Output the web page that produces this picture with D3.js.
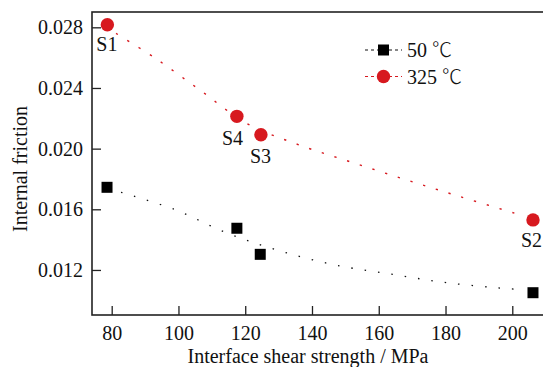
<!DOCTYPE html>
<html>
<head>
<meta charset="utf-8">
<script src="https://cdn.jsdelivr.net/npm/d3@7"></script>
<style>
	body { margin: 0; background: #fff; }
	svg { display: block; }
	text { font-family: "Liberation Serif", "Times New Roman", serif; fill: #111; }
</style>
</head>
<body>
<div id="container"></div>
<script>
// data
var shear50 = [78.6, 117.5, 124.5, 206.2];
var friction50 = [0.01745, 0.01475, 0.01303, 0.0105];
var shear325 = [78.7, 117.5, 124.7, 206.2];
var friction325 = [0.02817, 0.02213, 0.02092, 0.0153];
var sampleLabels = ['S1', 'S4', 'S3', 'S2'];

// dotted fit curves
var fit50X = [82.8, 98.7, 114.7, 130.2, 146.9, 163.8, 180.3, 197.2, 201.3];
var fit50Y = [0.01712, 0.0160, 0.01442, 0.01327, 0.01233, 0.01172, 0.01116, 0.01079, 0.01073];
var fit325X = [81.3, 92.8, 106.4, 120.4, 136.2, 152.2, 168.3, 184.3, 200.8];
var fit325Y = [0.0276, 0.0260, 0.02387, 0.02167, 0.02024, 0.01908, 0.01794, 0.01684, 0.01574];

var xTicks = [80, 100, 120, 140, 160, 180, 200];
var yTicks = [0.012, 0.016, 0.020, 0.024, 0.028];
var legendTemps = ['50', '325'];

var width = 543;
var height = 367;
var plotLeft = 92, plotTop = 12, plotRight = 545, plotBottom = 315;
var red = '#d7191f';

var x = d3.scaleLinear().domain([74.1, 209.8]).range([plotLeft, plotRight]);
var y = d3.scaleLinear().domain([0.00903, 0.02901]).range([plotBottom, plotTop]);

var svg = d3.select('#container')
	.append('svg')
	.attr('width', width)
	.attr('height', height);

// axes with inward ticks
var xAxis = svg.append('g')
	.attr('transform', 'translate(0,' + plotBottom + ')')
	.call(d3.axisBottom(x).tickValues(xTicks).tickSizeInner(-9).tickSizeOuter(0).tickFormat(d3.format('d')));
var yAxis = svg.append('g')
	.attr('transform', 'translate(' + plotLeft + ',0)')
	.call(d3.axisLeft(y).tickValues(yTicks).tickSizeInner(-9).tickSizeOuter(0).tickFormat(d3.format('.3f')));

[xAxis, yAxis].forEach(function(g) {
	g.attr('font-family', null);
	g.select('.domain').remove();
	g.selectAll('line').attr('stroke', '#222').attr('stroke-width', 1.3);
	g.selectAll('text').style('font-size', '20px').attr('fill', '#111')
		.style('font-family', '"Liberation Serif", serif');
});
xAxis.selectAll('text').attr('dy', null).attr('y', 25);
yAxis.selectAll('text').attr('x', -9);

// frame
svg.append('rect')
	.attr('x', plotLeft)
	.attr('y', plotTop)
	.attr('width', plotRight - plotLeft)
	.attr('height', plotBottom - plotTop)
	.attr('fill', 'none')
	.attr('stroke', '#222')
	.attr('stroke-width', 1.6);

// fit curves
var line = d3.line()
	.x((d) => x(d[0]))
	.y((d) => y(d[1]))
	.curve(d3.curveCatmullRom);

svg.append('path')
	.attr('d', line(d3.zip(fit50X, fit50Y)))
	.attr('fill', 'none')
	.attr('stroke', '#111')
	.attr('stroke-width', 1.3)
	.attr('stroke-dasharray', '1.5,12');

svg.append('path')
	.attr('d', line(d3.zip(fit325X, fit325Y)))
	.attr('fill', 'none')
	.attr('stroke', red)
	.attr('stroke-width', 1.4)
	.attr('stroke-dasharray', '2.3,11');

// markers
svg.selectAll('rect.sq')
	.data(d3.zip(shear50, friction50))
	.enter()
	.append('rect')
	.attr('class', 'sq')
	.attr('x', (d) => x(d[0]) - 5.5)
	.attr('y', (d) => y(d[1]) - 5.5)
	.attr('width', 11)
	.attr('height', 11)
	.attr('fill', '#000');

svg.selectAll('circle.pt')
	.data(d3.zip(shear325, friction325))
	.enter()
	.append('circle')
	.attr('class', 'pt')
	.attr('cx', (d) => x(d[0]))
	.attr('cy', (d) => y(d[1]))
	.attr('r', 6.7)
	.attr('fill', red);

// sample labels, placed relative to the red points
var labelOffsets = [[-11, 26], [-15, 29], [-11, 28], [-12, 27]];
svg.selectAll('text.lab')
	.data(sampleLabels)
	.enter()
	.append('text')
	.attr('class', 'lab')
	.attr('x', (d, i) => x(shear325[i]) + labelOffsets[i][0])
	.attr('y', (d, i) => y(friction325[i]) + labelOffsets[i][1])
	.style('font-size', '20px')
	.text((d) => d);

// legend
var legend = svg.append('g').attr('transform', 'translate(365,50)');
legendTemps.forEach(function(name, i) {
	var g = legend.append('g').attr('transform', 'translate(0,' + (i * 26.5) + ')');
	g.append('line')
		.attr('x1', 0).attr('x2', 37)
		.attr('stroke', i ? red : '#111')
		.attr('stroke-width', 1.2)
		.attr('stroke-dasharray', '3,3');
	if (i) {
		g.append('circle').attr('cx', 18.5).attr('r', 6.7).attr('fill', red);
	} else {
		g.append('rect').attr('x', 13).attr('y', -5.5).attr('width', 11).attr('height', 11).attr('fill', '#000');
	}
	var t = g.append('text')
		.attr('x', 42)
		.attr('y', 7)
		.style('font-size', '20px');
	t.append('tspan').text(name + ' ');
	t.append('tspan')
		.style('font-family', '"Noto Sans CJK SC", sans-serif')
		.style('font-weight', 300)
		.text('\u2103');
});

// axis titles
svg.append('text')
	.attr('x', 308)
	.attr('y', 363)
	.attr('text-anchor', 'middle')
	.style('font-size', '20px')
	.text('Interface shear strength / MPa');

svg.append('text')
	.attr('transform', 'translate(27,169) rotate(-90)')
	.attr('text-anchor', 'middle')
	.style('font-size', '20px')
	.text('Internal friction');
</script>
</body>
</html>
